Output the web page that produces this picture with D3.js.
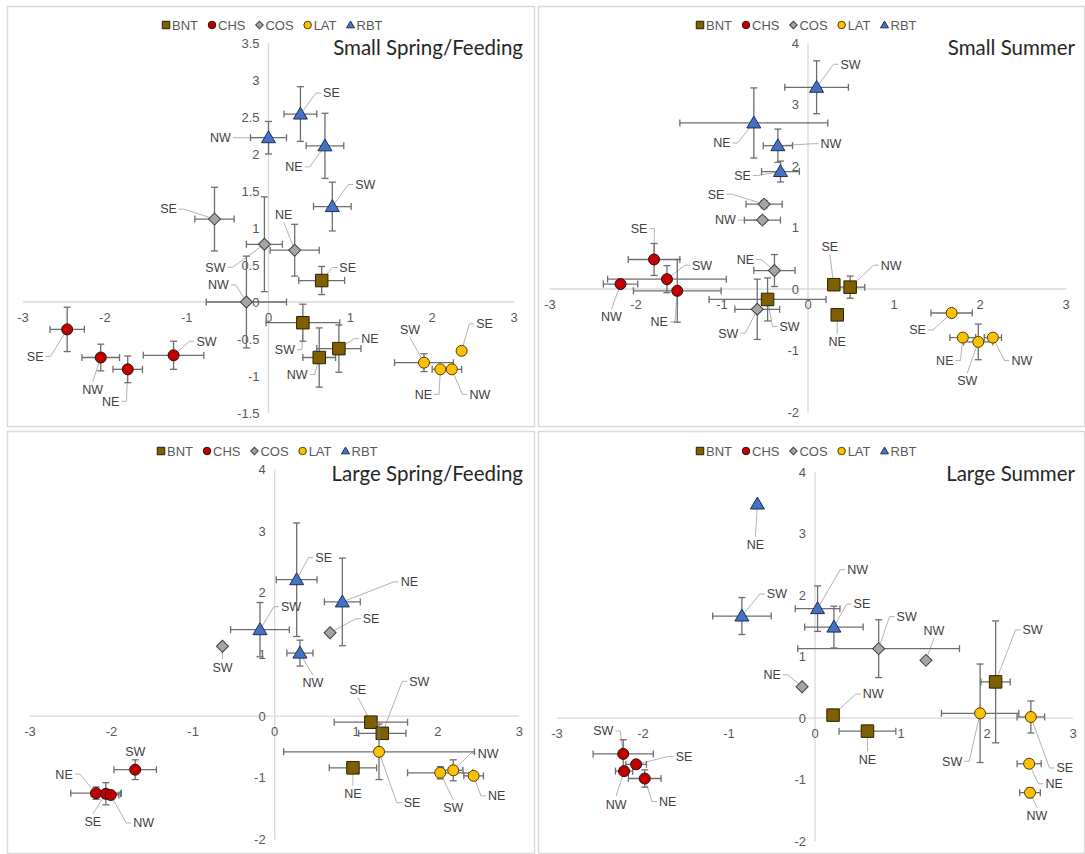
<!DOCTYPE html>
<html>
<head>
<meta charset="utf-8">
<script src="https://cdn.jsdelivr.net/npm/d3@7"></script>
<style>
  body { margin: 0; background: #fff; }
</style>
</head>
<body>
<svg id="chart" width="1085" height="854"></svg>
<script>
// ---- data ----
const species = ["BNT", "CHS", "COS", "LAT", "RBT"]
const xTicks = [-3, -2, -1, 0, 1, 2, 3]
const yTicksSmallSpring = [-1.5, -1, -0.5, 0, 0.5, 1, 1.5, 2, 2.5, 3, 3.5]
const yTicksOther = [-2, -1, 0, 1, 2, 3, 4]

// [species, site, x, y, xErr, yErr]
const smallSpring = [
    ["BNT", "SE", 0.65, 0.29, 0.28, 0.19],
    ["BNT", "SW", 0.42, -0.28, 0.45, 0.25],
    ["BNT", "NE", 0.86, -0.63, 0.27, 0.32],
    ["BNT", "NW", 0.62, -0.75, 0.20, 0.40],
    ["CHS", "SE", -2.46, -0.37, 0.21, 0.30],
    ["CHS", "NW", -2.05, -0.75, 0.23, 0.18],
    ["CHS", "NE", -1.72, -0.91, 0.18, 0.18],
    ["CHS", "SW", -1.16, -0.72, 0.37, 0.19],
    ["COS", "SE", -0.66, 1.12, 0.24, 0.43],
    ["COS", "SW", -0.05, 0.78, 0.22, 0.64],
    ["COS", "NW", -0.27, 0.00, 0.49, 0.62],
    ["COS", "NE", 0.32, 0.70, 0.30, 0.35],
    ["LAT", "SE", 2.36, -0.66, 0, 0],
    ["LAT", "SW", 1.90, -0.82, 0.36, 0.12],
    ["LAT", "NE", 2.10, -0.91, 0.10, 0],
    ["LAT", "NW", 2.24, -0.91, 0.12, 0],
    ["RBT", "NW", 0.00, 2.22, 0.22, 0.22],
    ["RBT", "SE", 0.39, 2.54, 0.20, 0.37],
    ["RBT", "NE", 0.69, 2.11, 0.23, 0.44],
    ["RBT", "SW", 0.78, 1.29, 0.23, 0.33]
]

const smallSummer = [
    ["BNT", "SE", 0.30, 0.07, 0, 0],
    ["BNT", "NW", 0.49, 0.03, 0.17, 0.18],
    ["BNT", "NE", 0.34, -0.42, 0, 0],
    ["BNT", "SW", -0.47, -0.17, 0.68, 0.35],
    ["CHS", "SE", -1.79, 0.48, 0.30, 0.26],
    ["CHS", "SW", -1.64, 0.16, 0.69, 0.22],
    ["CHS", "NW", -2.18, 0.08, 0.20, 0.06],
    ["CHS", "NE", -1.52, -0.03, 0.51, 0.51],
    ["COS", "SE", -0.51, 1.38, 0.21, 0.06],
    ["COS", "NW", -0.53, 1.12, 0.21, 0.05],
    ["COS", "NE", -0.39, 0.30, 0.24, 0.26],
    ["COS", "SW", -0.59, -0.33, 0.26, 0.49],
    ["LAT", "SE", 1.67, -0.39, 0.24, 0.06],
    ["LAT", "NE", 1.80, -0.79, 0.15, 0],
    ["LAT", "SW", 1.98, -0.86, 0.17, 0.29],
    ["LAT", "NW", 2.15, -0.79, 0.10, 0],
    ["RBT", "SW", 0.10, 3.28, 0.37, 0.43],
    ["RBT", "NE", -0.63, 2.70, 0.86, 0.57],
    ["RBT", "NW", -0.35, 2.33, 0.17, 0.27],
    ["RBT", "SE", -0.32, 1.91, 0.22, 0.17]
]

const largeSpring = [
    ["BNT", "SE", 1.18, -0.10, 0.45, 0.05],
    ["BNT", "SW", 1.32, -0.28, 0.29, 0],
    ["BNT", "NE", 0.96, -0.84, 0.29, 0],
    ["CHS", "SW", -1.71, -0.87, 0.26, 0.16],
    ["CHS", "NE", -2.19, -1.25, 0.31, 0.10],
    ["CHS", "SE", -2.07, -1.26, 0.18, 0.18],
    ["CHS", "NW", -2.01, -1.28, 0.10, 0],
    ["COS", "SW", -0.64, 1.13, 0, 0],
    ["COS", "SE", 0.68, 1.35, 0, 0],
    ["LAT", "SE", 1.28, -0.58, 1.17, 0.45],
    ["LAT", "SW", 2.03, -0.92, 0.40, 0.10],
    ["LAT", "NW", 2.19, -0.88, 0.12, 0.17],
    ["LAT", "NE", 2.44, -0.97, 0.12, 0],
    ["RBT", "SW", -0.18, 1.40, 0.36, 0.44],
    ["RBT", "SE", 0.27, 2.21, 0.25, 0.92],
    ["RBT", "NE", 0.83, 1.85, 0.22, 0.71],
    ["RBT", "NW", 0.31, 1.02, 0.16, 0.21]
]

const largeSummer = [
    ["BNT", "NW", 0.21, 0.05, 0, 0],
    ["BNT", "NE", 0.61, -0.21, 0.33, 0.08],
    ["BNT", "SW", 2.10, 0.59, 0.17, 0.99],
    ["CHS", "SW", -2.23, -0.58, 0.35, 0.23],
    ["CHS", "SE", -2.08, -0.75, 0.12, 0],
    ["CHS", "NW", -2.22, -0.86, 0.10, 0],
    ["CHS", "NE", -1.98, -0.98, 0.19, 0.14],
    ["COS", "SW", 0.74, 1.13, 0.94, 0.47],
    ["COS", "NW", 1.29, 0.94, 0, 0],
    ["COS", "NE", -0.15, 0.51, 0, 0],
    ["LAT", "SW", 1.92, 0.08, 0.45, 0.80],
    ["LAT", "SE", 2.51, 0.02, 0.16, 0.26],
    ["LAT", "NE", 2.49, -0.74, 0.14, 0],
    ["LAT", "NW", 2.50, -1.21, 0.12, 0.08],
    ["RBT", "NE", -0.67, 3.48, 0, 0],
    ["RBT", "SW", -0.85, 1.66, 0.34, 0.30],
    ["RBT", "NW", 0.03, 1.78, 0.26, 0.37],
    ["RBT", "SE", 0.22, 1.48, 0.34, 0.34]
]

// ---- layout: data label offsets in px from the point ----
const smallSpringLabels = {
    "BNT SE": [26, -13], "BNT SW": [-18, 27], "BNT NE": [31, -10], "BNT NW": [-22, 17],
    "CHS SE": [-32, 27], "CHS NW": [-8, 32], "CHS NE": [-17, 32], "CHS SW": [33, -14],
    "COS SE": [-46, -10], "COS SW": [-49, 23], "COS NW": [-28, -17], "COS NE": [-11, -36],
    "LAT SE": [23, -27], "LAT SW": [-14, -33], "LAT NE": [-17, 25], "LAT NW": [28, 25],
    "RBT NW": [-48, 0], "RBT SE": [31, -21], "RBT NE": [-31, 21], "RBT SW": [33, -22]
}
const smallSummerLabels = {
    "BNT SE": [-4, -38], "BNT NW": [41, -22], "BNT NE": [0, 27], "BNT SW": [22, 27],
    "CHS SE": [-15, -31], "CHS SW": [35, -14], "CHS NW": [-9, 33], "CHS NE": [-18, 31],
    "COS SE": [-48, -10], "COS NW": [-37, 0], "COS NE": [-29, -11], "COS SW": [-29, 24],
    "LAT SE": [-34, 17], "LAT NE": [-18, 23], "LAT SW": [-11, 39], "LAT NW": [29, 23],
    "RBT SW": [34, -23], "RBT NE": [-32, 20], "RBT NW": [53, -2], "RBT SE": [-38, 4]
}
const largeSpringLabels = {
    "BNT SE": [-13, -33], "BNT SW": [37, -52], "BNT NE": [0, 26],
    "CHS SW": [0, -18], "CHS NE": [-32, -19], "CHS SE": [-13, 28], "CHS NW": [33, 28],
    "COS SW": [0, 21], "COS SE": [41, -14],
    "LAT SE": [33, 51], "LAT SW": [13, 35], "LAT NW": [35, -17], "LAT NE": [23, 20],
    "RBT SW": [31, -23], "RBT SE": [27, -22], "RBT NE": [67, -20], "RBT NW": [13, 30]
}
const largeSummerLabels = {
    "BNT NW": [40, -21], "BNT NE": [0, 28], "BNT SW": [37, -52],
    "CHS SW": [-20, -23], "CHS SE": [48, -8], "CHS NW": [-8, 33], "CHS NE": [23, 23],
    "COS SW": [28, -32], "COS NW": [8, -30], "COS NE": [-30, -12],
    "LAT SW": [-28, 48], "LAT SE": [34, 51], "LAT NE": [25, 20], "LAT NW": [7, 23],
    "RBT NE": [-2, 41], "RBT SW": [35, -22], "RBT NW": [40, -39], "RBT SE": [28, -23]
}

let config = {}

function initConfig() {
    let container = d3.select("#chart")
    let panels = [
        {title: "Small Spring/Feeding", data: smallSpring, labels: smallSpringLabels, yTicks: yTicksSmallSpring,
         yDomain: [-1.5, 3.5], box: [7, 6, 527, 420], xRange: [23, 514], yRange: [413, 43], legend: [166, 25], titlePos: [523, 55]},
        {title: "Small Summer", data: smallSummer, labels: smallSummerLabels, yTicks: yTicksOther,
         yDomain: [-2, 4], box: [538, 6, 546, 420], xRange: [550, 1066], yRange: [412, 43], legend: [700, 25], titlePos: [1075, 55]},
        {title: "Large Spring/Feeding", data: largeSpring, labels: largeSpringLabels, yTicks: yTicksOther,
         yDomain: [-2, 4], box: [7, 431, 527, 422], xRange: [30, 519.3], yRange: [839.4, 469.3], legend: [161, 451], titlePos: [523, 481]},
        {title: "Large Summer", data: largeSummer, labels: largeSummerLabels, yTicks: yTicksOther,
         yDomain: [-2, 4], box: [538, 431, 546, 422], xRange: [557, 1073], yRange: [841.3, 472], legend: [700, 451], titlePos: [1075, 481]}
    ]
    let styles = {
        BNT: {fill: "#7f6000", stroke: "#2a2000", shape: "square"},
        CHS: {fill: "#c00000", stroke: "#2e0c0c", shape: "circle"},
        COS: {fill: "#a5a5a5", stroke: "#404040", shape: "diamond"},
        LAT: {fill: "#ffc000", stroke: "#4d3e0c", shape: "circle"},
        RBT: {fill: "#4472c4", stroke: "#1a2f55", shape: "triangle"}
    }
    config = {container, panels, styles, fontFamily: "'Liberation Sans', Arial, sans-serif"}
}

function markerPath(shape, s) {
    // s = nominal marker width in px
    if (shape === "square") return d3.symbol(d3.symbolSquare, s * s)()
    if (shape === "circle") return d3.symbol(d3.symbolCircle, Math.PI * s * s / 4)()
    if (shape === "diamond") return d3.symbol(d3.symbolSquare, s * s / 2)()
    let h = s * 0.85
    return `M0,${-h * 0.58}L${s / 2},${h * 0.42}L${-s / 2},${h * 0.42}Z`
}

function drawMarker(g, sp, x, y, s) {
    let st = config.styles[sp]
    g.append("path")
        .attr("d", markerPath(st.shape, s))
        .attr("transform", `translate(${x},${y})` + (st.shape === "diamond" ? " rotate(45)" : ""))
        .attr("fill", st.fill)
        .attr("stroke", st.stroke)
        .attr("stroke-width", 1)
}

function drawPanel(p) {
    let {container, fontFamily} = config
    let g = container.append("g")
    let [bx, by, bw, bh] = p.box

    g.append("rect")
        .attr("x", bx + 0.5).attr("y", by + 0.5)
        .attr("width", bw).attr("height", bh)
        .attr("fill", "#fff")
        .attr("stroke", "#d9d9d9")
        .attr("stroke-width", 1.5)

    let x = d3.scaleLinear().domain([-3, 3]).range(p.xRange)
    let y = d3.scaleLinear().domain(p.yDomain).range(p.yRange)

    // axes crossing at zero
    g.append("line")
        .attr("x1", x(-3)).attr("x2", x(3))
        .attr("y1", y(0)).attr("y2", y(0))
        .attr("stroke", "#d9d9d9").attr("stroke-width", 1.3)
    g.append("line")
        .attr("x1", x(0)).attr("x2", x(0))
        .attr("y1", y(p.yDomain[0])).attr("y2", y(p.yDomain[1]))
        .attr("stroke", "#d9d9d9").attr("stroke-width", 1.3)

    g.selectAll(".xt").data(xTicks).enter().append("text")
        .attr("x", d => x(d))
        .attr("y", y(0) + 20)
        .attr("text-anchor", "middle")
        .attr("font-family", fontFamily)
        .attr("font-size", "13px")
        .attr("fill", "#595959")
        .text(d => d)
    g.selectAll(".yt").data(p.yTicks).enter().append("text")
        .attr("x", x(0) - 9)
        .attr("y", d => y(d))
        .attr("dy", "0.35em")
        .attr("text-anchor", "end")
        .attr("font-family", fontFamily)
        .attr("font-size", "13px")
        .attr("fill", "#595959")
        .text(d => d)

    // title
    g.append("text")
        .attr("x", p.titlePos[0]).attr("y", p.titlePos[1])
        .attr("text-anchor", "end")
        .attr("font-family", "Lato, 'Open Sans', sans-serif")
        .attr("font-size", "20.5px")
        .attr("fill", "#262626")
        .text(p.title)

    // legend
    let lx = p.legend[0]
    species.forEach(sp => {
        drawMarker(g, sp, lx, p.legend[1], config.styles[sp].shape === "triangle" ? 8 : 7.5)
        let t = g.append("text")
            .attr("x", lx + 6).attr("y", p.legend[1])
            .attr("dy", "0.36em")
            .attr("font-family", fontFamily)
            .attr("font-size", "13px")
            .attr("fill", "#595959")
            .text(sp)
        lx += 6 + t.node().getComputedTextLength() + 14
    })

    let pts = p.data.map(r => ({sp: r[0], site: r[1], px: x(r[2]), py: y(r[3]),
        x0: x(r[2] - r[4]), x1: x(r[2] + r[4]), y0: y(r[3] - r[5]), y1: y(r[3] + r[5]),
        off: p.labels[r[0] + " " + r[1]] || [20, -20]}))

    // leader lines + labels
    let labelG = g.append("g")
    pts.forEach(d => {
        let lx = d.px + d.off[0], ly = d.py + d.off[1]
        let t = labelG.append("text")
            .attr("x", lx).attr("y", ly)
            .attr("dy", "0.35em")
            .attr("text-anchor", "middle")
            .attr("font-family", fontFamily)
            .attr("font-size", "12.5px")
            .attr("fill", "#404040")
            .text(d.site)
        let hw = t.node().getComputedTextLength() / 2 + 2
        let dist = Math.hypot(d.off[0], d.off[1])
        if (dist < 20) return
        let pts2
        if (Math.abs(d.off[0]) > hw + 4) {
            let sx = d.off[0] > 0 ? lx - hw : lx + hw
            let stub = d.off[0] > 0 ? -5 : 5
            pts2 = [[sx, ly], [sx + stub, ly], [d.px, d.py]]
        } else {
            let sy = d.off[1] > 0 ? ly - 8 : ly + 8
            pts2 = [[lx, sy], [d.px, d.py]]
        }
        labelG.insert("path", "text")
            .attr("d", d3.line()(pts2))
            .attr("fill", "none")
            .attr("stroke", "#b3b3b3")
            .attr("stroke-width", 1)
    })

    // error bars and markers, series by series
    species.forEach(sp => {
        let sg = g.append("g")
        let sPts = pts.filter(d => d.sp === sp)
        sPts.forEach(d => {
            let segs = []
            if (d.x1 - d.x0 > 1) segs.push([[d.x0, d.py], [d.x1, d.py]], [[d.x0, d.py - 3.5], [d.x0, d.py + 3.5]], [[d.x1, d.py - 3.5], [d.x1, d.py + 3.5]])
            if (d.y0 - d.y1 > 1) segs.push([[d.px, d.y0], [d.px, d.y1]], [[d.px - 3.5, d.y0], [d.px + 3.5, d.y0]], [[d.px - 3.5, d.y1], [d.px + 3.5, d.y1]])
            segs.forEach(s => sg.append("path")
                .attr("d", d3.line()(s))
                .attr("stroke", "#6e6e6e")
                .attr("stroke-width", 1.3)
                .attr("fill", "none"))
        })
        sPts.forEach(d => {
            let st = config.styles[sp]
            let size = st.shape === "square" ? 12.5 : st.shape === "triangle" ? 14 : st.shape === "diamond" ? 12 : 11
            drawMarker(sg, sp, d.px, d.py, size)
        })
    })
}

function showChart() {
    initConfig()
    config.panels.forEach(drawPanel)
}

window.addEventListener("load", showChart)
</script>
</body>
</html>
